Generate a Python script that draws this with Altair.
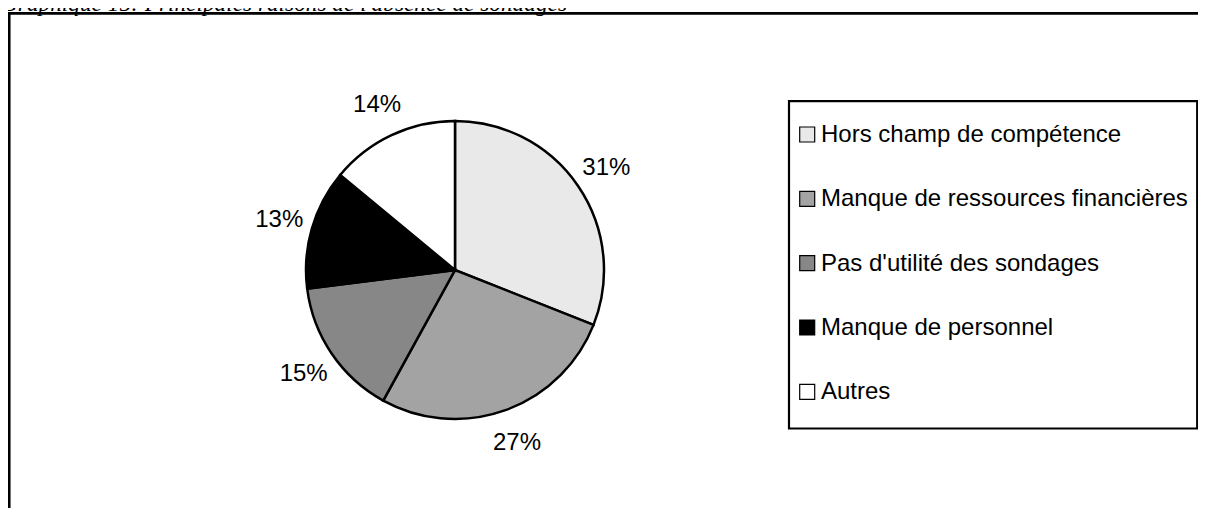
import altair as alt
import pandas as pd

# ---- data ----
categories = [
    "Hors champ de compétence",
    "Manque de ressources financières",
    "Pas d'utilité des sondages",
    "Manque de personnel",
    "Autres",
]
values = [31, 27, 15, 13, 14]
labels = ["31%", "27%", "15%", "13%", "14%"]
fills = ["#e9e9e9", "#a3a3a3", "#878787", "#000000", "#ffffff"]
title_text = "Graphique 15: Principales raisons de l'absence de sondages"

df = pd.DataFrame({"cat": categories, "value": values, "label": labels, "idx": list(range(len(categories)))})
one = pd.DataFrame({"t": [title_text]})

W, H = 1190, 500
CX, CY, R = 447, 262, 149
SANS = "Liberation Sans"

color = alt.Color("cat:N", scale=alt.Scale(domain=categories, range=fills), legend=None)

frame = alt.Chart(one).mark_rect(fill="white", stroke="black", strokeWidth=2.7).encode(
    x=alt.value(1.2), x2=alt.value(1400), y=alt.value(5.3), y2=alt.value(900)
)

title = alt.Chart(one).mark_text(
    font="Liberation Serif", fontStyle="italic", fontSize=23.3, align="left", baseline="alphabetic", color="black"
).encode(x=alt.value(-7), y=alt.value(3), text="t:N")

base = alt.Chart(df).encode(
    theta=alt.Theta("value:Q", stack=True),
    order=alt.Order("idx:Q", sort="ascending"),
)
pie = base.mark_arc(radius=R, stroke="black", strokeWidth=2.5).encode(
    color=color, x=alt.value(CX), y=alt.value(CY)
)
pct = base.mark_text(radius=183, font=SANS, fontSize=24, color="black", baseline="middle", dy=1).encode(
    text="label:N", x=alt.value(CX), y=alt.value(CY)
)

ly = alt.Y(
    "cat:N",
    scale=alt.Scale(type="point", domain=categories, range=[126.5, 383.8], padding=0),
    axis=None,
)
legbox = alt.Chart(one).mark_rect(fill="white", stroke="black", strokeWidth=2.2).encode(
    x=alt.value(781), x2=alt.value(1189.2), y=alt.value(93.2), y2=alt.value(420.5)
)
swatch = alt.Chart(df).mark_square(size=225, stroke="black", strokeWidth=1.2, opacity=1).encode(
    x=alt.value(799.2), y=ly, color=color
)
legtext = alt.Chart(df).mark_text(
    align="left", baseline="alphabetic", dy=7.5, font=SANS, fontSize=24, color="black"
).encode(x=alt.value(813), y=ly, text="cat:N")

chart = (
    alt.layer(frame, title, pie, pct, legbox, swatch, legtext)
    .properties(width=W, height=H, autosize=alt.AutoSizeParams(type="none"), padding=0, background="white")
    .configure_view(stroke=None)
)

chart.save("out.html", embed_options={"renderer": "svg", "actions": False})
